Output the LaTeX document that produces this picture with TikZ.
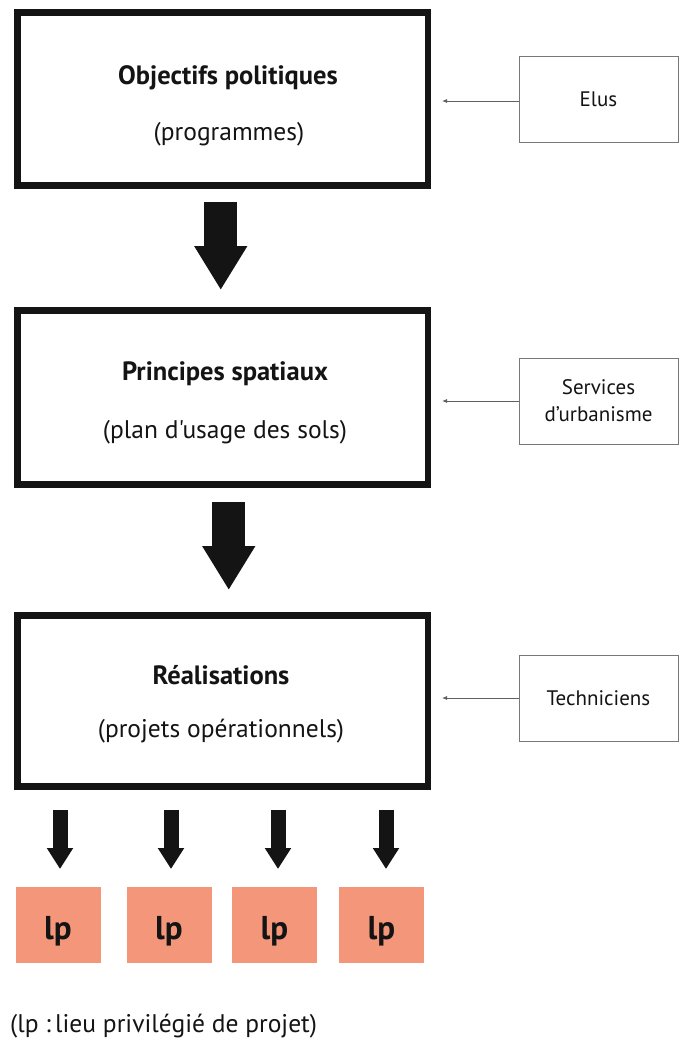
\documentclass[tikz,border=0pt]{standalone}
\usepackage{fontspec}
\setmainfont{PT Sans}[Ligatures=TeXOff]
\usetikzlibrary{arrows.meta,calc}
\definecolor{lpfill}{RGB}{243,150,122}
\definecolor{ink}{RGB}{20,20,20}
\definecolor{thin}{RGB}{120,120,120}
\tikzset{
  mainbox/.style={draw=ink, line width=6.5pt, outer sep=0pt, minimum width=410.5pt, inner sep=0pt},
  sidebox/.style={draw=thin, line width=0.8pt, outer sep=0pt, minimum width=159pt, minimum height=86pt, inner sep=0pt, align=center, font=\fontsize{21}{27}\selectfont, text=ink},
  lpbox/.style={fill=lpfill, outer sep=0pt, minimum width=85pt, minimum height=76pt, inner sep=0pt, font=\fontsize{33}{36}\selectfont\bfseries, text=ink},
  headtxt/.style={font=\fontsize{26.5}{30}\selectfont\bfseries, text=ink, inner sep=0pt},
  subtxt/.style={font=\fontsize{25.5}{30}\selectfont, text=ink, inner sep=0pt},
  bigarrow/.style={ink, line width=33pt, -{Triangle[length=44pt,width=50pt]}},
  smallarrow/.style={ink, line width=15pt, -{Triangle[length=21pt,width=25pt]}},
  sidearrow/.style={thin!80!black, line width=0.8pt, -{Latex[length=5pt,width=4pt]}},
}
\newcommand\lptext{\raisebox{0pt}[\dimexpr\height+12pt\relax][\depth]{lp}}
\begin{document}
\begin{tikzpicture}[x=1pt,y=-1pt]
\useasboundingbox[fill=white] (0,0) rectangle (681,1055);

% main boxes
\node[mainbox, minimum height=173pt] (b1) at (222.75,99) {};
\node[mainbox, minimum height=174pt] (b2) at (222.75,397.5) {};
\node[mainbox, minimum height=171pt] (b3) at (222.75,701) {};

% texts in main boxes
\node[headtxt] (t1a) at (228,78) {Objectifs politiques};
\node[subtxt]  (t1b) at (229,134) {(programmes)};
\node[headtxt] (t2a) at (225,374) {Principes spatiaux};
\node[subtxt]  (t2b) at (225,432) {(plan d'usage des sols)};
\node[headtxt] (t3a) at (221,675) {Réalisations};
\node[subtxt]  (t3b) at (221,731) {(projets opérationnels)};

% side boxes
\node[sidebox] (elus) at (598.5,99) {Elus};
\node[sidebox] (serv) at (598.5,401) {Services\\d’urbanisme};
\node[sidebox] (tech) at (598.5,698) {Techniciens};

\draw[sidearrow] ([yshift=-2pt]elus.west) -- ([xshift=14pt,yshift=-2pt]elus.west -| b1.east);
\draw[sidearrow] (serv.west) -- ([xshift=14pt]serv.west -| b2.east);
\draw[sidearrow] (tech.west) -- ([xshift=14pt]tech.west -| b3.east);

% big arrows
\draw[bigarrow] ([xshift=-2pt,yshift=-16.5pt]b1.south) -- ([xshift=-2pt,yshift=20.5pt]b2.north);
\draw[bigarrow] ([xshift=6pt,yshift=-17.5pt]b2.south) -- ([xshift=6pt,yshift=25.5pt]b3.north);

% lp boxes
\node[lpbox] (lp1) at (58,925) {\lptext};
\node[lpbox] (lp2) at (169,925) {\lptext};
\node[lpbox] (lp3) at (274.5,925) {\lptext};
\node[lpbox] (lp4) at (381.5,925) {\lptext};

\foreach \n/\dx in {lp1/2, lp2/2, lp3/3.5, lp4/4.5}{
  \draw[smallarrow] ([xshift=\dx pt,yshift=77pt]\n.north) -- ([xshift=\dx pt,yshift=18pt]\n.north);
}

% caption
\node[anchor=west, inner sep=0pt, font=\fontsize{25.5}{30}\selectfont, text=ink] (cap) at (10,1026) {(lp :\thinspace lieu privilégié de projet)};
\end{tikzpicture}
\end{document}
